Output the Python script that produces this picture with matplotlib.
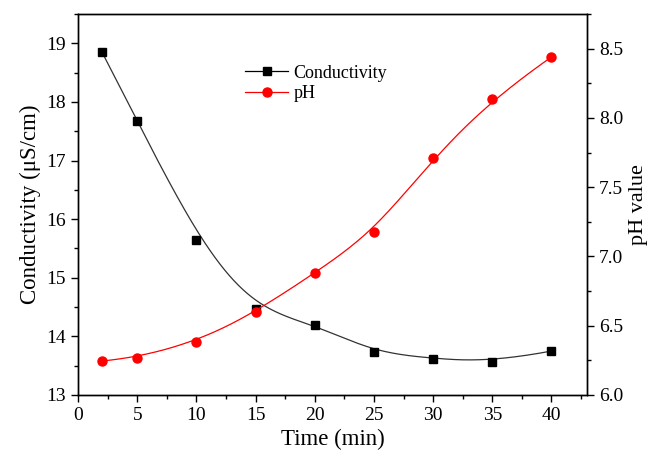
import matplotlib
matplotlib.use('Agg')
import matplotlib.pyplot as plt
import numpy as np
from matplotlib.ticker import MultipleLocator

plt.rcParams['font.family'] = ['Liberation Serif', 'DejaVu Serif']

time = [2, 5, 10, 15, 20, 25, 30, 35, 40]
conductivity = [18.86, 17.68, 15.65, 14.47, 14.20, 13.73, 13.62, 13.56, 13.75]
ph = [6.245, 6.27, 6.38, 6.60, 6.88, 7.18, 7.71, 8.14, 8.44]


def bspline(px, py, num=400, k=3):
    # clamped cubic B-spline using the data points as control points
    px = np.asarray(px, float)
    py = np.asarray(py, float)
    n = len(px)
    inner = np.linspace(0, 1, n - k + 1)
    knots = np.concatenate([[0] * k, inner, [1] * k])
    u = np.linspace(0, 1, num)
    u[-1] -= 1e-9
    # degree-0 basis
    B = np.zeros((num, len(knots) - 1))
    for i in range(len(knots) - 1):
        B[:, i] = (u >= knots[i]) & (u < knots[i + 1])
    for d in range(1, k + 1):
        Bn = np.zeros((num, len(knots) - 1 - d))
        for i in range(len(knots) - 1 - d):
            a = knots[i + d] - knots[i]
            b = knots[i + d + 1] - knots[i + 1]
            t1 = (u - knots[i]) / a * B[:, i] if a > 0 else 0
            t2 = (knots[i + d + 1] - u) / b * B[:, i + 1] if b > 0 else 0
            Bn[:, i] = t1 + t2
        B = Bn
    return B @ px, B @ py


cx, cy = bspline(time, conductivity)
hx, hy = bspline(time, ph)

fig = plt.figure(figsize=(6.64, 4.57), dpi=100)
ax = fig.add_axes([0.1175, 0.1357, 0.7665, 0.8336])
ax2 = ax.twinx()

ax.plot(cx, cy, color='#333333', lw=0.9)
ax.plot(time, conductivity, 's', color='black', ms=6)
ax2.plot(hx, hy, color='red', lw=0.9)
ax2.plot(time, ph, 'o', color='red', ms=6.5)

ax.set_xlim(0, 43)
ax.set_ylim(13, 19.5)
ax2.set_ylim(6.0, 8.75)

ax.xaxis.set_major_locator(MultipleLocator(5))
ax.xaxis.set_minor_locator(MultipleLocator(2.5))
ax.yaxis.set_major_locator(MultipleLocator(1))
ax.yaxis.set_minor_locator(MultipleLocator(0.5))
ax2.yaxis.set_major_locator(MultipleLocator(0.5))
ax2.yaxis.set_minor_locator(MultipleLocator(0.25))
ax2.yaxis.set_major_formatter(plt.FormatStrFormatter('%.1f'))

for a in (ax, ax2):
    a.tick_params(which='major', direction='out', length=5, width=1, labelsize=14)
    a.tick_params(which='minor', direction='out', length=3, width=1)
    for s in a.spines.values():
        s.set_linewidth(1)

ax.set_xlabel('Time (min)', fontsize=16.5)
ax.set_ylabel('Conductivity (μS/cm)', fontsize=16.5)
ax2.set_ylabel('pH value', fontsize=16)

handles = [
    plt.Line2D([], [], color='black', lw=0.9, marker='s', ms=6),
    plt.Line2D([], [], color='red', lw=0.9, marker='o', ms=6.5),
]
ax.legend(handles, ['Conductivity', 'pH'], loc='upper left',
          bbox_to_anchor=(0.296, 0.91), frameon=False, fontsize=13,
          handlelength=2.4, handletextpad=0.3, labelspacing=0.2)

fig.savefig('out.png', dpi=100)
